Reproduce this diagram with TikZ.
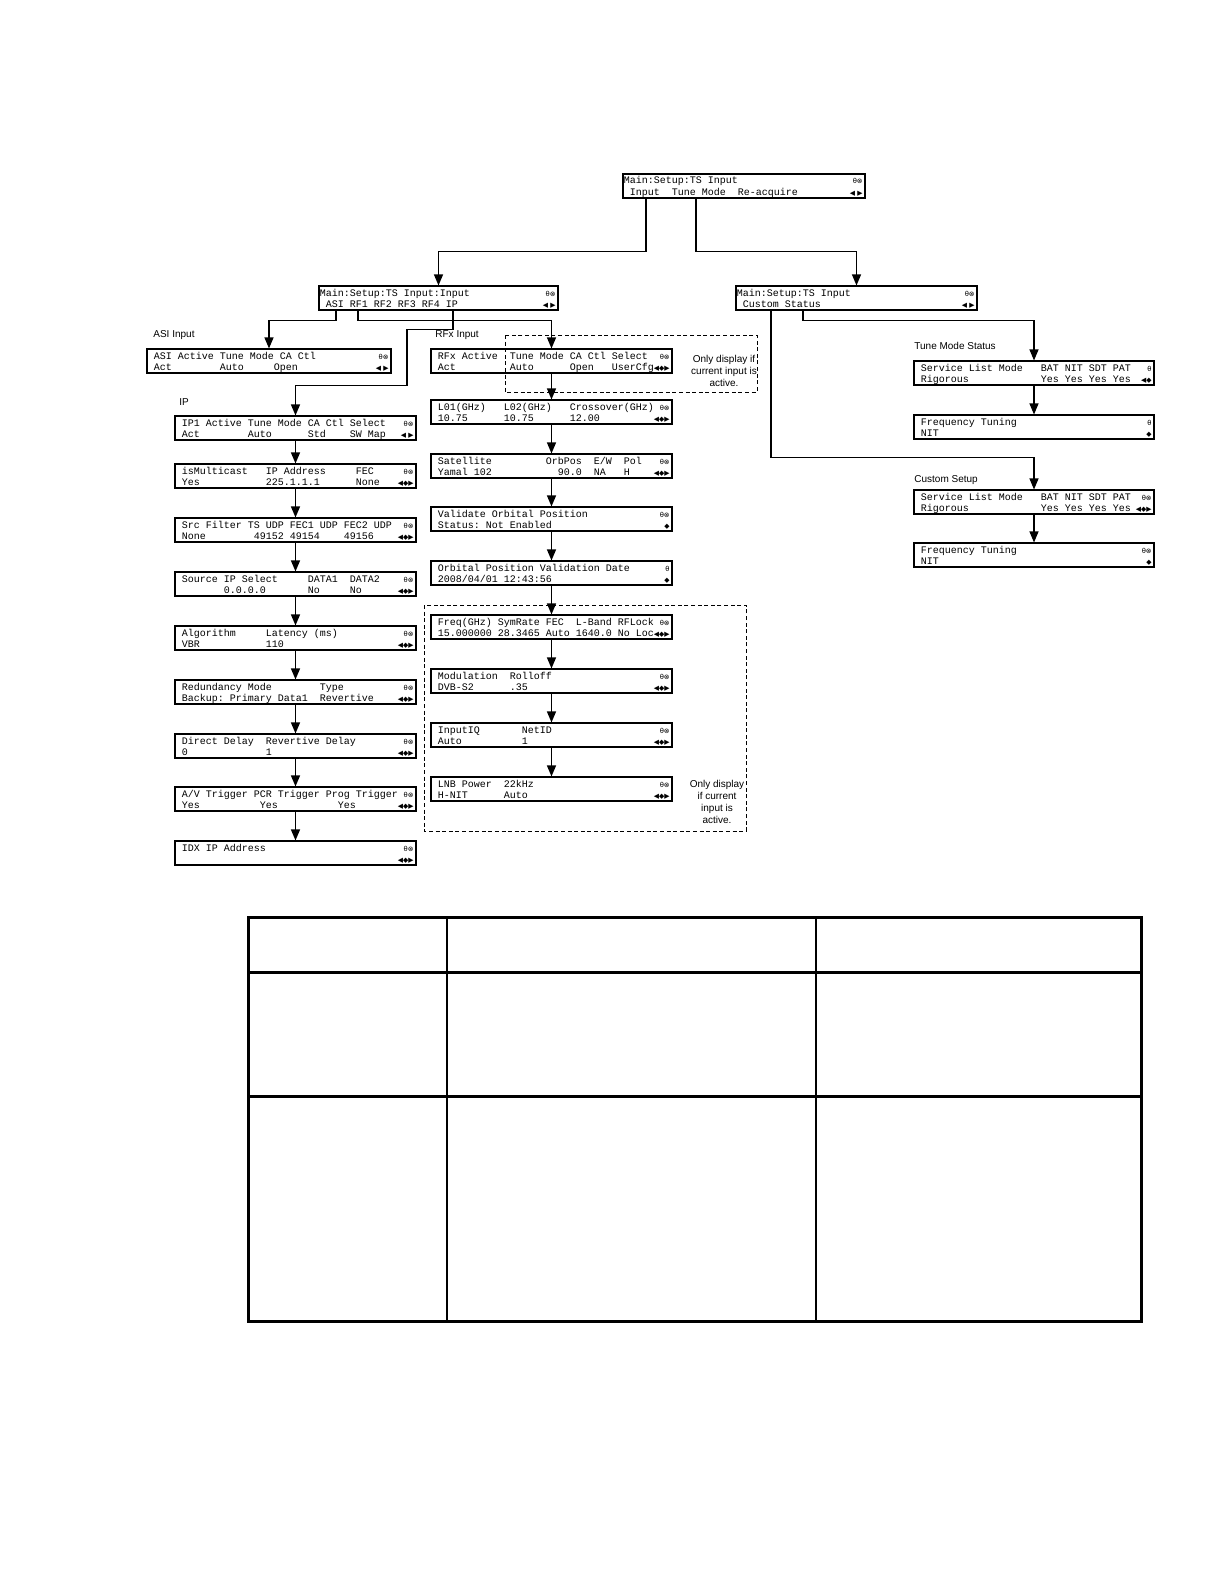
\documentclass[tikz,border=0pt]{standalone}
\usepackage{fontspec}
\setmainfont{Liberation Sans}
\newfontfamily\lcdfont{Liberation Mono}
\newfontfamily\symfont{DejaVu Sans}
\usetikzlibrary{arrows.meta,calc}
\tikzset{
 lcdframe/.style={draw, line width=0.55pt, inner sep=0pt},
 lcdtxt/.style={anchor=base west, inner sep=0pt, font=\lcdfont\fontsize{5}{6}\selectfont},
 lcdico/.style={anchor=base east, inner sep=0pt, font=\symfont\fontsize{3.4}{4}\selectfont},
 conn/.style={line width=0.6pt, -{Triangle[width=4.5pt,length=5.5pt]}},
 lbl/.style={anchor=west, inner sep=0pt, font=\fontsize{5}{6}\selectfont},
 note/.style={align=center, inner sep=0pt, font=\fontsize{5}{6}\selectfont},
 dashbox/.style={line width=0.5pt, dash pattern=on 2pt off 1.3pt},
}
% name, x1, y1, width, row1, row2, icon1, icon2
\newcommand\lcdpanel[8]{%
 \node[lcdframe, minimum width=#4*0.5pt, minimum height=12pt] (#1) at ({#2+#4/2},{#3+12}) {};
 \draw[line width=0.9pt] (#1.north west) -- (#1.south west) -- (#1.south east);
 \node[lcdtxt] (#1-a) at ({#2+0.5},{#3+10}) {#5};
 \node[lcdtxt] (#1-b) at ({#2+0.5},{#3+21}) {#6};
 \node[lcdico] (#1-i) at ({#2+#4-2},{#3+10}) {#7};
 \node[lcdico] (#1-j) at ({#2+#4-2},{#3+21}) {#8};
}
\begin{document}
\begin{tikzpicture}[x=0.5pt,y=-0.5pt]
\useasboundingbox (0,0) rectangle (1225,1584);
\fill[white] (0,0) rectangle (1225,1584);

% x positions of connector start points
\coordinate (xIn) at (646,0);
\coordinate (xTune) at (696,0);
\coordinate (xAsi) at (336,0);
\coordinate (xRf) at (358,0);
\coordinate (xIp) at (453,0);
\coordinate (xCus) at (771,0);
\coordinate (xSta) at (803,0);

% top level
\lcdpanel{top}{623}{174}{242}{Main:Setup:TS~Input}{~Input~~Tune~Mode~~Re-acquire}{θ⊗}{◀~▶}
\lcdpanel{inb}{319}{286}{239}{Main:Setup:TS~Input:Input}{~ASI~RF1~RF2~RF3~RF4~IP}{θ⊗}{◀~▶}
\lcdpanel{cst}{736}{286}{241}{Main:Setup:TS~Input}{~Custom~Status}{θ⊗}{◀~▶}

% ASI
\lcdpanel{asi}{147}{349}{244}{~ASI~Active~Tune~Mode~CA~Ctl}{~Act~~~~~~~~Auto~~~~~Open}{θ⊗}{◀~▶}

% IP column
\lcdpanel{ip1}{175}{416}{241}{~IP1~Active~Tune~Mode~CA~Ctl~Select}{~Act~~~~~~~~Auto~~~~~~Std~~~~SW~Map}{θ⊗}{◀~▶}
\lcdpanel{mc}{175}{464}{241}{~isMulticast~~~IP~Address~~~~~FEC}{~Yes~~~~~~~~~~~225.1.1.1~~~~~~None}{θ⊗}{◀◆▶}
\lcdpanel{src}{175}{518}{241}{~Src~Filter~TS~UDP~FEC1~UDP~FEC2~UDP}{~None~~~~~~~~49152~49154~~~~49156}{θ⊗}{◀◆▶}
\lcdpanel{sip}{175}{572}{241}{~Source~IP~Select~~~~~DATA1~~DATA2}{~~~~~~~~0.0.0.0~~~~~~~No~~~~~No}{θ⊗}{◀◆▶}
\lcdpanel{alg}{175}{626}{241}{~Algorithm~~~~~Latency~(ms)}{~VBR~~~~~~~~~~~110}{θ⊗}{◀◆▶}
\lcdpanel{red}{175}{680}{241}{~Redundancy~Mode~~~~~~~~Type}{~Backup:~Primary~Data1~~Revertive}{θ⊗}{◀◆▶}
\lcdpanel{dly}{175}{734}{241}{~Direct~Delay~~Revertive~Delay}{~0~~~~~~~~~~~~~1}{θ⊗}{◀◆▶}
\lcdpanel{trg}{175}{787}{241}{~A/V~Trigger~PCR~Trigger~Prog~Trigger}{~Yes~~~~~~~~~~Yes~~~~~~~~~~Yes}{θ⊗}{◀◆▶}
\lcdpanel{idx}{175}{841}{241}{~IDX~IP~Address}{}{θ⊗}{◀◆▶}

% RF column
\lcdpanel{rfx}{431}{349}{241}{~RFx~Active~~Tune~Mode~CA~Ctl~Select}{~Act~~~~~~~~~Auto~~~~~~Open~~~UserCfg}{θ⊗}{◀◆▶}
\lcdpanel{lo}{431}{400}{241}{~L01(GHz)~~~L02(GHz)~~~Crossover(GHz)}{~10.75~~~~~~10.75~~~~~~12.00}{θ⊗}{◀◆▶}
\lcdpanel{sat}{431}{454}{241}{~Satellite~~~~~~~~~OrbPos~~E/W~~Pol}{~Yamal~102~~~~~~~~~~~90.0~~NA~~~H}{θ⊗}{◀◆▶}
\lcdpanel{val}{431}{507}{241}{~Validate~Orbital~Position}{~Status:~Not~Enabled}{θ⊗}{◆}
\lcdpanel{odt}{431}{561}{241}{~Orbital~Position~Validation~Date}{~2008/04/01~12:43:56}{θ}{◆}
\lcdpanel{frq}{431}{615}{241}{~Freq(GHz)~SymRate~FEC~~L-Band~RFLock}{~15.000000~28.3465~Auto~1640.0~No~Loc}{θ⊗}{◀◆▶}
\lcdpanel{mod}{431}{669}{241}{~Modulation~~Rolloff}{~DVB-S2~~~~~~.35}{θ⊗}{◀◆▶}
\lcdpanel{iq}{431}{723}{241}{~InputIQ~~~~~~~NetID}{~Auto~~~~~~~~~~1}{θ⊗}{◀◆▶}
\lcdpanel{lnb}{431}{777}{241}{~LNB~Power~~22kHz}{~H-NIT~~~~~~Auto}{θ⊗}{◀◆▶}

% right column
\lcdpanel{tsl}{914}{361}{240}{~Service~List~Mode~~~BAT~NIT~SDT~PAT}{~Rigorous~~~~~~~~~~~~Yes~Yes~Yes~Yes}{θ}{◀◆}
\lcdpanel{tft}{914}{415}{240}{~Frequency~Tuning}{~NIT}{θ}{◆}
\lcdpanel{csl}{914}{490}{240}{~Service~List~Mode~~~BAT~NIT~SDT~PAT}{~Rigorous~~~~~~~~~~~~Yes~Yes~Yes~Yes}{θ⊗}{◀◆▶}
\lcdpanel{cft}{914}{543}{240}{~Frequency~Tuning}{~NIT}{θ⊗}{◆}

% dashed regions
\draw[dashbox] (505,335) rectangle (757,392);
\draw[dashbox] (424,605) rectangle (746,831);

% labels
\node[lbl] (lasi) at (153,335) {ASI Input};
\node[lbl] (lrf) at (435,335) {RFx Input};
\node[lbl] (lip) at (179,402) {IP};
\node[lbl] (ltms) at (914,346) {Tune Mode Status};
\node[lbl] (lcs) at (914,480) {Custom Setup};
\node[note] (n1) at (724,371) {Only display if\\current input is\\active.};
\node[note] (n2) at (717,802) {Only display\\if current\\input is\\active.};

% connectors
\draw[conn] (top.south -| xIn) |- ($(inb.north)+(0,-34)$) -- (inb.north);
\draw[conn] (top.south -| xTune) |- ($(cst.north)+(0,-34)$) -- (cst.north);
\draw[conn] (inb.south -| xAsi) |- ($(asi.north)+(0,-28)$) -- (asi.north);
\draw[conn] (inb.south -| xRf) |- ($(rfx.north)+(0,-28)$) -- (rfx.north);
\draw[conn] (inb.south -| xIp) -- ++(0,19) -| ($(ip1.north)+(111.5,-30)$) -| (ip1.north);
\draw[conn] (cst.south -| xCus) |- ($(csl.north)+(0,-32)$) -- (csl.north);
\draw[conn] (cst.south -| xSta) |- ($(tsl.north)+(0,-40)$) -- (tsl.north);

\foreach \a/\b in {ip1/mc,mc/src,src/sip,sip/alg,alg/red,red/dly,dly/trg,trg/idx,
  rfx/lo,lo/sat,sat/val,val/odt,odt/frq,frq/mod,mod/iq,iq/lnb,tsl/tft,csl/cft}
  \draw[conn] (\a.south) -- (\b.north);

% table
\draw[line width=1.5pt] (248,917) rectangle (1141,1321);
\draw[line width=1.5pt] (248,972) -- (1141,972);
\draw[line width=1.5pt] (248,1096) -- (1141,1096);
\draw[line width=1pt] (447,917) -- (447,1321);
\draw[line width=1pt] (816,917) -- (816,1321);
\end{tikzpicture}
\end{document}
